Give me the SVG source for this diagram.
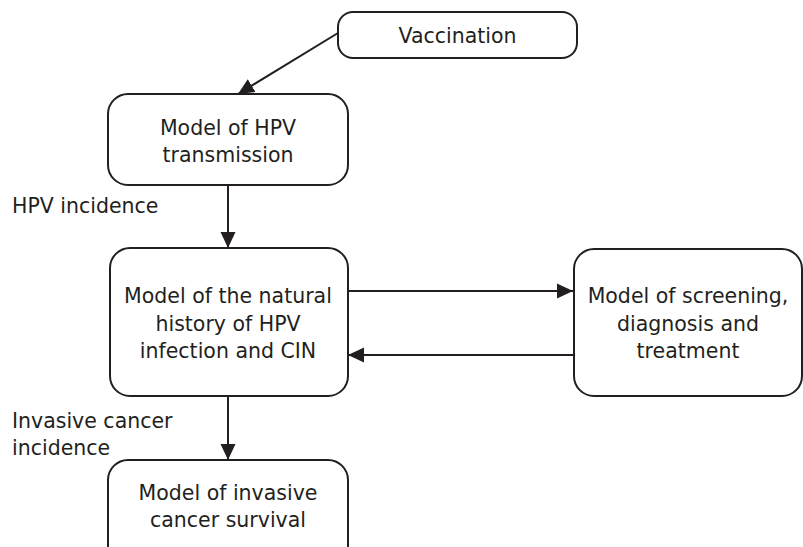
<svg xmlns="http://www.w3.org/2000/svg" width="803" height="547" viewBox="0 0 803 547">
  <style>
    .box { fill: #ffffff; stroke: #231f20; stroke-width: 2; }
    .lbl { font-family: "DejaVu Sans", "Open Sans", sans-serif; font-size: 20.5px; fill: #231f20; }
    .mid { text-anchor: middle; }
    .edge { stroke: #231f20; stroke-width: 2; fill: none; marker-end: url(#head); }
  </style>
  <defs>
    <marker id="head" markerUnits="userSpaceOnUse" markerWidth="16" markerHeight="16" viewBox="0 0 16 16" refX="16" refY="8" orient="auto">
      <path d="M0,0.5 L16,8 L0,15.5 Z" fill="#231f20"/>
    </marker>
  </defs>
  <rect width="803" height="547" fill="#ffffff"/>

  <g id="connectors">
    <line class="edge" x1="338" y1="33" x2="238" y2="94"/>
    <line class="edge" x1="228" y1="185" x2="228" y2="248"/>
    <line class="edge" x1="348" y1="291" x2="573" y2="291"/>
    <line class="edge" x1="573" y1="355" x2="348" y2="355"/>
    <line class="edge" x1="228" y1="396" x2="228" y2="460"/>
  </g>

  <g id="vaccination">
    <rect class="box" x="338" y="12" width="239" height="46" rx="15"/>
    <text class="lbl mid" x="457.5" y="43">Vaccination</text>
  </g>

  <g id="transmission">
    <rect class="box" x="108" y="94" width="240" height="91" rx="20"/>
    <text class="lbl mid" x="228" y="135">Model of HPV</text>
    <text class="lbl mid" x="228" y="162">transmission</text>
  </g>

  <g id="natural-history">
    <rect class="box" x="110" y="248" width="238" height="148" rx="20"/>
    <text class="lbl mid" x="228" y="303">Model of the natural</text>
    <text class="lbl mid" x="228" y="330.5">history of HPV</text>
    <text class="lbl mid" x="228" y="358">infection and CIN</text>
  </g>

  <g id="screening">
    <rect class="box" x="574" y="249" width="228" height="147" rx="20"/>
    <text class="lbl mid" x="688" y="303">Model of screening,</text>
    <text class="lbl mid" x="688" y="330.5">diagnosis and</text>
    <text class="lbl mid" x="688" y="358">treatment</text>
  </g>

  <g id="survival">
    <rect class="box" x="108" y="460" width="240" height="110" rx="20"/>
    <text class="lbl mid" x="228" y="500">Model of invasive</text>
    <text class="lbl mid" x="228" y="527">cancer survival</text>
  </g>

  <g id="edge-labels">
    <text class="lbl" x="12" y="213">HPV incidence</text>
    <text class="lbl" x="12" y="428">Invasive cancer</text>
    <text class="lbl" x="12" y="455">incidence</text>
  </g>
</svg>
